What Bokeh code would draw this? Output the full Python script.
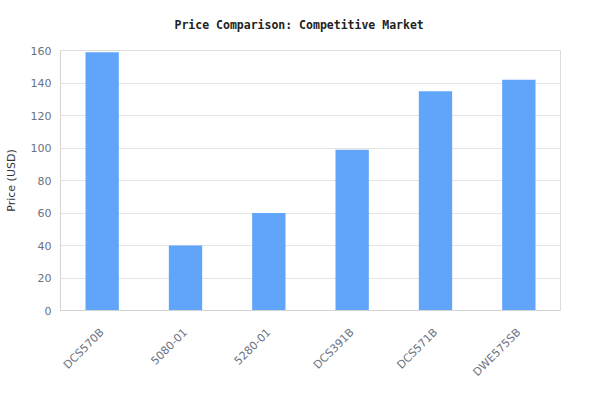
import math
from bokeh.plotting import figure
from bokeh.models import ColumnDataSource, FixedTicker
from bokeh.embed import file_html
from bokeh.resources import INLINE

products = ["DCS570B", "5080-01", "5280-01", "DCS391B", "DCS571B", "DWE575SB"]
prices = [159, 40, 60, 99, 135, 142]
y_ticks = [0, 20, 40, 60, 80, 100, 120, 140, 160]

source = ColumnDataSource(data=dict(product=products, price=prices))

p = figure(
    x_range=products,
    y_range=(0, 160),
    width=592,
    height=400,
    output_backend="svg",
    toolbar_location=None,
    title="Price Comparison: Competitive Market",
    min_border_left=60,
    min_border_right=32,
    min_border_top=50,
    min_border_bottom=90,
)

p.vbar(x="product", top="price", width=0.4, source=source,
       fill_color="#60a5fa", line_color=None)

p.title.align = "left"
p.title.offset = 114
p.title.text_font = "DejaVu Sans Mono"
p.title.text_font_size = "11.5px"
p.title.text_font_style = "bold"
p.title.text_color = "#222222"
p.title.vertical_align = "top"
p.title.standoff = 34

p.outline_line_color = "#dddddd"
p.xgrid.grid_line_color = None
p.ygrid.grid_line_color = "#e5e5e5"
p.yaxis.ticker = FixedTicker(ticks=y_ticks)

for ax in (p.xaxis, p.yaxis):
    ax.axis_line_color = "#d4d4d4"
    ax.major_tick_line_color = None
    ax.minor_tick_line_color = None
    ax.major_tick_out = 0
    ax.major_tick_in = 0
    ax.major_label_text_color = "#6b7280"
    ax.major_label_text_font = "DejaVu Sans"
    ax.major_label_text_font_size = "11px"

p.yaxis.major_label_standoff = 9
p.xaxis.major_label_standoff = 20
p.yaxis.axis_label = "Price (USD)"
p.yaxis.axis_label_text_font = "DejaVu Sans"
p.yaxis.axis_label_text_font_size = "11px"
p.yaxis.axis_label_text_font_style = "normal"
p.yaxis.axis_label_text_color = "#333333"
p.yaxis.axis_label_standoff = 10
p.xaxis.major_label_orientation = math.pi / 4

open("out.html", "w").write(file_html(p, INLINE))
